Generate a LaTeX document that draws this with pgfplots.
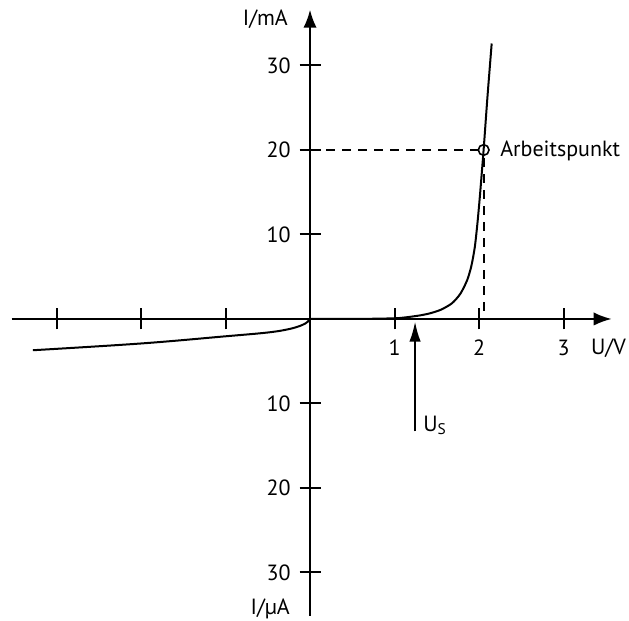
\documentclass[border=0pt]{standalone}
\usepackage{fontspec}
\setmainfont{PT Sans}
\usepackage{pgfplots}
\pgfplotsset{compat=1.18}
\usetikzlibrary{arrows.meta}

\begin{document}
\begin{tikzpicture}
\fontsize{16.5}{19}\selectfont
\begin{axis}[
  x=63.375pt, y=6.3375pt,
  axis lines=middle,
  xmin=-3.53, xmax=3.57,
  ymin=-35.1, ymax=36.6,
  axis line style={line width=1.5pt, -{Latex[length=13.5pt,width=10pt]}},
  xtick={-3,-2,-1,1,2,3},
  xticklabels={,,,1,2,3},
  ytick={-30,-20,-10,10,20,30},
  yticklabels={30,20,10,10,20,30},
  tick align=center,
  major tick length=15.75pt,
  tick style={line width=1.5pt, black},
  /pgf/number format/assume math mode=true,
  ticklabel style={font=\fontsize{16.5}{19}\selectfont},
  xticklabel style={anchor=north, yshift=-2pt},
  yticklabel style={anchor=east, xshift=-1pt},
  clip=false,
]
% Durchlassbereich (mA)
\addplot[line width=1.5pt, smooth, tension=0.45] coordinates {
  (0,0) (0.6,0.01) (1.0,0.08) (1.14,0.2) (1.3,0.42) (1.42,0.67) (1.55,1.1)
  (1.68,1.86) (1.78,3.0) (1.86,4.6) (1.91,6.3) (1.95,8.5) (1.98,11.2)
  (2.01,14.5) (2.055,20.1) (2.10,26.3) (2.15,32.6)
};
% Sperrbereich (uA)
\addplot[line width=1.5pt, smooth, tension=0.6] coordinates {
  (0,0) (-0.03,-0.35) (-0.1,-0.75) (-0.25,-1.2) (-0.5,-1.6)
  (-1,-2.05) (-2,-2.9) (-3.28,-3.7)
};
% Arbeitspunkt
\addplot[line width=1.3pt, dash pattern=on 6.75pt off 5.25pt] coordinates {(0,20) (1.99,20)};
\addplot[line width=1.3pt, dash pattern=on 6.75pt off 5.25pt] coordinates {(2.055,19.0) (2.055,0)};
\addplot[only marks, mark=o, mark size=4pt, mark options={line width=1.2pt}] coordinates {(2.055,20)};
% Schleusenspannung
\addplot[line width=1.5pt, -{Latex[length=15pt,width=8.5pt]}] coordinates {(1.243,-13.3) (1.243,-0.3)};

\node[anchor=base west, inner sep=0pt] at (axis cs:1.337,-13.3) {U\textsubscript{S}};
\node[anchor=base west, inner sep=0pt] at (axis cs:2.249,19.2) {Arbeitspunkt};
\node[anchor=base east, inner sep=0pt] at (axis cs:3.74,-4.26) {U/V};
\node[anchor=base east, inner sep=0pt] at (axis cs:-0.26,34.7) {I/mA};
\node[anchor=base east, inner sep=0pt] at (axis cs:-0.236,-35.0) {I/µA};

\coordinate (ll) at (axis cs:-3.669,-35.74);
\coordinate (ur) at (axis cs:3.775,37.75);
\end{axis}
\pgfresetboundingbox
\path[use as bounding box] (ll) rectangle (ur);
\end{tikzpicture}
\end{document}
